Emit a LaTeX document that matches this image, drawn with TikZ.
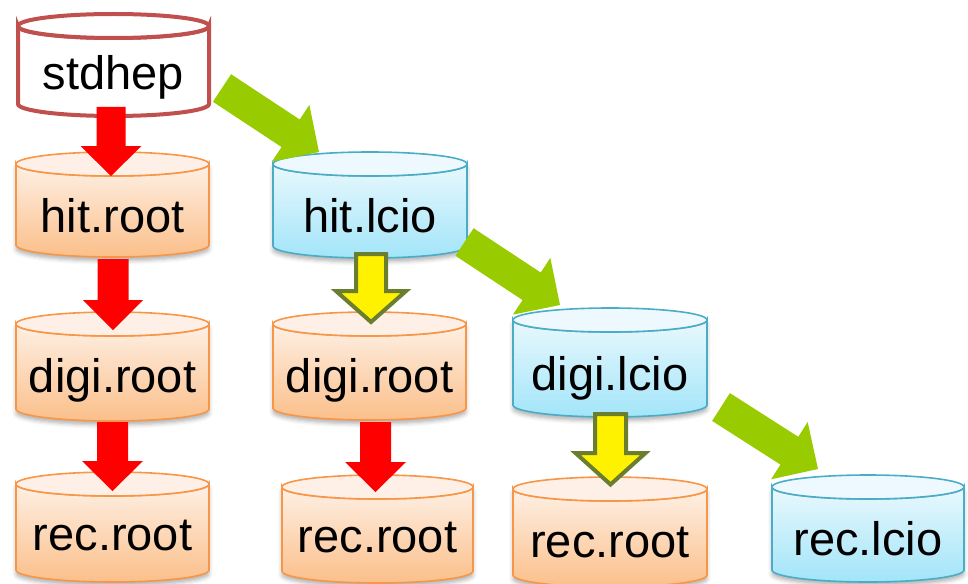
\documentclass[tikz,border=0pt]{standalone}
\usepackage{fontspec}
\setmainfont{Liberation Sans}
\usetikzlibrary{calc,shadows.blur}
\definecolor{orline}{HTML}{F79646}
\definecolor{ortop}{HTML}{FEF0E5}
\definecolor{orbot}{HTML}{FBBF8A}
\definecolor{orlid}{HTML}{FEF0E6}
\definecolor{blline}{HTML}{4BACC6}
\definecolor{bltop}{HTML}{E9F8FD}
\definecolor{blbot}{HTML}{A2E5F9}
\definecolor{bllid}{HTML}{EDF9FE}
\definecolor{stdline}{HTML}{C0504D}
\definecolor{grarrow}{HTML}{99CC00}
\definecolor{olborder}{HTML}{6B7D2E}
\tikzset{
  lbl/.style={font=\fontsize{47}{50}\selectfont, anchor=base, inner sep=0pt, text=black},
  cshadow/.style={blur shadow={shadow xshift=0pt, shadow yshift=-4pt, shadow blur radius=4pt, shadow opacity=30}},
  orbody/.style={cshadow, top color=ortop, bottom color=orbot, draw=orline, line width=1.6pt},
  orlidst/.style={fill=orlid, draw=orline, line width=1.6pt},
  blbody/.style={cshadow, top color=bltop, bottom color=blbot, draw=blline, line width=1.6pt},
  bllidst/.style={fill=bllid, draw=blline, line width=1.6pt},
  stdbody/.style={fill=white, draw=stdline, line width=4pt},
  stdlidst/.style={fill=white, draw=stdline, line width=4pt},
  redarrow/.style={fill=red, draw=none},
  greenarrow/.style={fill=grarrow, draw=none},
  yellowarrow/.style={fill=yellow, draw=olborder, line width=4pt, line join=miter},
}
% #1 name, #2 body style, #3 lid style, #4 xl, #5 xr, #6 top, #7 bottom, #8 baseline, #9 text
\newcommand\drawcan[9]{%
  \pgfmathsetmacro\canx{(#4+#5)/2}%
  \pgfmathsetmacro\canrx{(#5-#4)/2}%
  \pgfmathsetmacro\cant{#6+12}%
  \pgfmathsetmacro\canb{#7-12}%
  \path[#2] (#4,\cant) -- (#4,\canb) arc[start angle=180, end angle=0, x radius=\canrx, y radius=12]
     -- (#5,\cant) arc[start angle=0, end angle=180, x radius=\canrx, y radius=12] -- cycle;
  \path[#3] (\canx,\cant) ellipse[x radius=\canrx, y radius=12];
  \node[lbl] (#1) at (\canx,#8) {#9};
}
% #1 style, #2 tail, #3 tip, #4 shaft half, #5 head half, #6 head length
\newcommand\blockarrow[6]{%
  \coordinate (ba-b) at ($(#3)!#6!(#2)$);
  \path[#1] ($(#2)!#4!90:(#3)$) -- ($(ba-b)!#4!90:(#3)$) -- ($(ba-b)!#5!90:(#3)$) -- (#3)
     -- ($(ba-b)!#5!-90:(#3)$) -- ($(ba-b)!#4!-90:(#3)$) -- ($(#2)!#4!-90:(#3)$) -- cycle;
}
\begin{document}
\begin{tikzpicture}[x=1pt,y=-1pt]
\useasboundingbox (0,0) rectangle (968,583);
% cylinders
\drawcan{stdhep}{stdbody}{stdlidst}{18}{209}{14}{116}{90}{stdhep}
\drawcan{hitroot}{orbody}{orlidst}{16}{209}{152}{257}{232}{hit.root}
\drawcan{hitlcio}{blbody}{bllidst}{273}{467}{152}{258}{232}{hit.lcio}
\drawcan{digiroota}{orbody}{orlidst}{16}{209}{312}{421}{392}{digi.root}
\drawcan{digirootb}{orbody}{orlidst}{273}{466}{312}{420}{392}{digi.root}
\drawcan{digilcio}{blbody}{bllidst}{513}{707}{308}{417}{390}{digi.lcio}
\drawcan{recroota}{orbody}{orlidst}{16}{209}{472}{582}{550}{rec.root}
\drawcan{recrootb}{orbody}{orlidst}{282}{473}{475}{583}{552}{rec.root}
\drawcan{recrootc}{orbody}{orlidst}{513}{707}{477}{587}{557}{rec.root}
\drawcan{reclcio}{blbody}{bllidst}{772}{964}{475}{582}{555}{rec.lcio}
% arrow end points
\coordinate (r1s) at (111,107);   \coordinate (r1e) at (111,176);
\coordinate (r2s) at (113,259);   \coordinate (r2e) at (113,330);
\coordinate (r3s) at (112.5,422); \coordinate (r3e) at (112.5,491);
\coordinate (r4s) at (375.5,422); \coordinate (r4e) at (375.5,492);
\coordinate (y1s) at (371,254);   \coordinate (y1e) at (371,322);
\coordinate (y2s) at (610.5,414); \coordinate (y2e) at (610.5,484.5);
\coordinate (g1s) at (222,88);    \coordinate (g1e) at (319,152);
\coordinate (g2s) at (464.5,242); \coordinate (g2e) at (560,305);
\coordinate (g3s) at (721,407);   \coordinate (g3e) at (818,469);
% arrows
\blockarrow{redarrow}{r1s}{r1e}{14.5pt}{30.5pt}{30pt}
\blockarrow{redarrow}{r2s}{r2e}{15.5pt}{30pt}{30pt}
\blockarrow{redarrow}{r3s}{r3e}{15.5pt}{30.5pt}{30pt}
\blockarrow{redarrow}{r4s}{r4e}{15.5pt}{30.5pt}{30pt}
\blockarrow{yellowarrow}{y1s}{y1e}{15pt}{35pt}{31pt}
\blockarrow{yellowarrow}{y2s}{y2e}{15.5pt}{35pt}{31.5pt}
\blockarrow{greenarrow}{g1s}{g1e}{16.5pt}{34pt}{34pt}
\blockarrow{greenarrow}{g2s}{g2e}{16.5pt}{34pt}{34pt}
\blockarrow{greenarrow}{g3s}{g3e}{16.5pt}{34pt}{34pt}
\end{tikzpicture}
\end{document}
